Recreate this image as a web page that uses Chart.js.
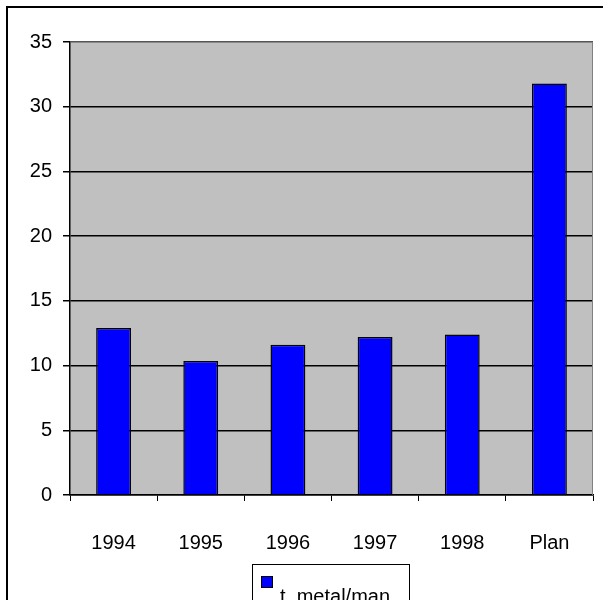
<!DOCTYPE html>
<html>
<head>
<meta charset="utf-8">
<script src="https://cdn.jsdelivr.net/npm/chart.js@4"></script>
<style>
  html, body { margin: 0; padding: 0; background: #ffffff; overflow: hidden; }
  #wrap { position: absolute; left: 0; top: 0; width: 603px; height: 600px; }
</style>
</head>
<body>
<div id="wrap"><canvas id="c" width="603" height="600"></canvas></div>
<script>
const categories = ['1994', '1995', '1996', '1997', '1998', 'Plan'];
const seriesName = 't_metal/man';
const seriesValues = [12.9, 10.35, 11.6, 12.2, 12.4, 31.8];
const yTicks = [0, 5, 10, 15, 20, 25, 30, 35];

const FONT = 'Arial, "Liberation Sans", sans-serif';

const decor = {
  id: 'decor',
  beforeDraw(chart) {
    const ctx = chart.ctx;
    const a = chart.chartArea;
    ctx.save();
    ctx.fillStyle = '#ffffff';
    ctx.fillRect(0, 0, chart.width, chart.height);
    // outer frame (left + top)
    ctx.strokeStyle = '#000000';
    ctx.lineWidth = 2;
    ctx.beginPath();
    ctx.moveTo(7, chart.height + 5);
    ctx.lineTo(7, 7);
    ctx.lineTo(chart.width + 5, 7);
    ctx.stroke();
    // plot background
    ctx.fillStyle = '#c0c0c0';
    ctx.fillRect(a.left, a.top, a.right - a.left, a.bottom - a.top);
    ctx.restore();
  },
  afterDatasetsDraw(chart) {
    const ctx = chart.ctx;
    const a = chart.chartArea;
    ctx.save();
    ctx.strokeStyle = '#808080';
    ctx.lineWidth = 1;
    ctx.beginPath();
    ctx.moveTo(Math.round(a.right) - 0.5, a.top);
    ctx.lineTo(Math.round(a.right) - 0.5, a.bottom);
    ctx.stroke();
    ctx.restore();
  },
  afterDraw(chart) {
    // legend box
    const ctx = chart.ctx;
    const ds = chart.data.datasets[0];
    ctx.save();
    ctx.strokeStyle = '#000000';
    ctx.lineWidth = 1;
    ctx.strokeRect(252.5, 564.5, 157, 60);
    ctx.fillStyle = ds.backgroundColor;
    ctx.fillRect(261, 576, 12, 12);
    ctx.strokeRect(261.5, 576.5, 11, 11);
    ctx.fillStyle = '#000000';
    ctx.font = '20px ' + FONT;
    ctx.textBaseline = 'alphabetic';
    ctx.textAlign = 'left';
    ctx.fillText(ds.label, 280, 603);
    ctx.restore();
  }
};

new Chart(document.getElementById('c'), {
  type: 'bar',
  data: {
    labels: categories,
    datasets: [{
      label: seriesName,
      data: seriesValues,
      backgroundColor: '#0000ff',
      borderColor: '#000000',
      borderWidth: 1.5,
      categoryPercentage: 0.8,
      barPercentage: 0.5
    }]
  },
  options: {
    responsive: false,
    devicePixelRatio: 1,
    animation: false,
    layout: { padding: { top: 42, right: 10, left: 0, bottom: 0 } },
    plugins: {
      legend: { display: false },
      tooltip: { enabled: false },
      title: { display: false }
    },
    scales: {
      x: {
        offset: true,
        afterFit(scale) { scale.height = 105; },
        grid: {
          offset: true,
          drawOnChartArea: false,
          drawTicks: true,
          tickLength: 6,
          color: '#000000',
          lineWidth: 1
        },
        border: { display: true, color: '#000000', width: 1.5 },
        ticks: {
          color: '#000000',
          font: { family: FONT, size: 20 },
          padding: 30,
          maxRotation: 0,
          autoSkip: false
        }
      },
      y: {
        min: 0,
        max: 35,
        afterFit(scale) { scale.width = 70; },
        afterBuildTicks(scale) { scale.ticks = yTicks.map(v => ({ value: v })); },
        grid: {
          drawTicks: true,
          tickLength: 7,
          color: (c) => (c.tick && c.tick.value === 35) ? '#555555' : '#000000',
          tickColor: '#000000',
          lineWidth: 1.5
        },
        border: { display: true, color: '#000000', width: 1.5 },
        ticks: {
          color: '#000000',
          font: { family: FONT, size: 20 },
          padding: 11
        }
      }
    }
  },
  plugins: [decor]
});
</script>
</body>
</html>
